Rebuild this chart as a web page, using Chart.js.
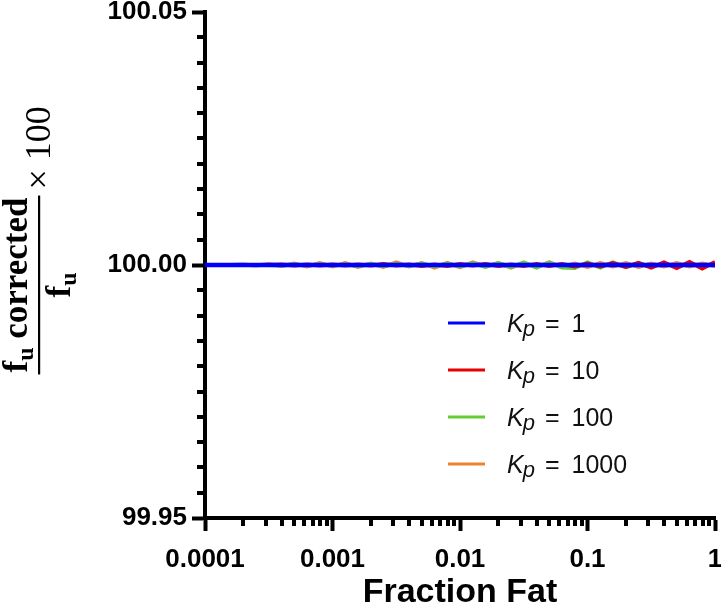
<!DOCTYPE html>
<html><head><meta charset="utf-8">
<script src="https://cdn.jsdelivr.net/npm/chart.js@4.4.0/dist/chart.umd.min.js"></script>
<style>html,body{margin:0;padding:0;background:#fff;}#wrap{width:721px;height:615px;}</style>
</head><body><div id="wrap"><canvas id="c" width="721" height="615"></canvas></div>
<script>
// ---- data ----
const fractionFat = [0.0001,0.000126,0.000158,0.0002,0.000251,0.000316,0.000398,0.000501,0.000631,0.000794,
  0.001,0.00126,0.00158,0.002,0.00251,0.00316,0.00398,0.00501,0.00631,0.00794,
  0.01,0.0126,0.0158,0.02,0.0251,0.0316,0.0398,0.0501,0.0631,0.0794,
  0.1,0.126,0.158,0.2,0.251,0.316,0.398,0.501,0.631,0.794,1];
const kp1 = [100,100,100,100,100,100,100,100,100,100,
  100,100,100,100,100,100,100,100,100,100,
  100,100,100,100,100,100,100,100,100,100,
  100,100,100,100,100,100,100,100,100,100,100];
const kp10 = [100,100,100,100,100,100,100.0001,99.9999,100.0001,99.9999,
  100.0001,99.9999,100.0001,99.9999,100.0002,99.9999,100.0001,99.9998,100.0001,99.9998,
  100.0002,99.9999,100.0002,99.9998,100.0001,99.9998,100.0002,99.9998,100.0002,99.9997,
  100.0003,99.9997,100.0004,99.9996,100.0004,99.9995,100.0005,99.9994,100.0006,99.9993,100.0006];
const kp100 = [100,100,100,100,100,100,99.9999,100.0001,99.9999,100.0001,
  99.9999,100.0001,99.9998,100.0002,99.9998,100.0002,99.9998,100.0003,99.9997,100.0003,
  99.9997,100.0004,99.9996,100.0004,99.9996,100.0005,99.9995,100.0005,99.9995,99.9994,
  100.0005,99.9995,100.0005,99.9996,100.0004,99.9996,100.0003,99.9997,100.0003,99.9998,100.0002];
const kp1000 = [100,100,100,100.0001,99.9999,100.0002,99.9998,100.0003,99.9997,100.0004,
  99.9997,100.0004,99.9996,100.0003,99.9996,100.0005,99.9997,100.0004,99.9995,100.0004,
  99.9996,100.0005,99.9997,100.0004,99.9995,100.0004,99.9996,100.0005,99.9996,100.0003,
  99.9996,100.0004,99.9997,100.0004,99.9996,100.0003,99.9997,100.0004,99.9997,100.0003,99.9998];
const kpLabels = ['1','10','100','1000'];
const xTickValues = [0.0001,0.001,0.01,0.1,1];
const xTickLabels = ['0.0001','0.001','0.01','0.1','1'];
const yTickValues = [99.95,100.00,100.05];
const yTickLabels = ['99.95','100.00','100.05'];

const colors = ['#0000ff','#e60000','#66cc33','#ee8233'];
const series = [kp1,kp10,kp100,kp1000];

Chart.defaults.font.family = '"Liberation Sans", Arial, sans-serif';
Chart.defaults.color = '#000';

const decor = {
  id:'decor',
  afterDraw(chart){
    const ctx = chart.ctx, xs = chart.scales.x, ys = chart.scales.y, ca = chart.chartArea;
    ctx.save();
    ctx.strokeStyle = '#000'; ctx.lineWidth = 4; ctx.lineCap = 'butt';
    // minor y ticks
    for (let k = 1; k < 20; k++) {
      if (k === 10) continue;
      const v = yTickValues[0] + k * (yTickValues[1]-yTickValues[0]) / 10;
      const py = Math.round(ys.getPixelForValue(v));
      ctx.beginPath(); ctx.moveTo(ca.left - 8, py); ctx.lineTo(ca.left, py); ctx.stroke();
    }
    // minor x ticks
    for (let d = 0; d < xTickValues.length - 1; d++) {
      for (let m = 2; m <= 9; m++) {
        const px = Math.round(xs.getPixelForValue(xTickValues[d]*m));
        ctx.beginPath(); ctx.moveTo(px, ca.bottom); ctx.lineTo(px, ca.bottom + 8); ctx.stroke();
      }
    }
    // legend
    const rowY0 = 323, rowStep = 47, lx0 = 448, lx1 = 485, tx = 507;
    chart.data.datasets.forEach((ds, i) => {
      const y = rowY0 + i*rowStep;
      ctx.strokeStyle = ds.borderColor; ctx.lineWidth = 3;
      ctx.beginPath(); ctx.moveTo(lx0, y); ctx.lineTo(lx1, y); ctx.stroke();
      ctx.fillStyle = '#111'; ctx.textAlign = 'left'; ctx.textBaseline = 'alphabetic';
      let x = tx; const base = y + 8.5;
      ctx.font = 'italic 25px "Liberation Sans"'; ctx.fillText('K', x, base); x += ctx.measureText('K').width - 1;
      ctx.font = 'italic 22px "Liberation Sans"'; ctx.fillText('p', x, base + 4); x += ctx.measureText('p').width + 10;
      ctx.font = '25px "Liberation Sans"'; ctx.fillText('=', x, base); x += ctx.measureText('=').width + 12;
      ctx.fillText(kpLabels[i], x, base);
    });
    // y title
    ctx.translate(39, 285);
    ctx.rotate(-Math.PI/2);
    ctx.fillStyle = '#000'; ctx.textAlign = 'left'; ctx.textBaseline = 'alphabetic';
    const big = 'bold 35px "Liberation Serif"', sub = 'bold 24px "Liberation Serif"';
    ctx.font = big; const wf = ctx.measureText('f').width, wc = ctx.measureText(' corrected').width;
    ctx.font = sub; const wu = ctx.measureText('u').width;
    const numW = wf + wu + wc;
    let x = -numW/2; const nb = -12;
    ctx.font = big; ctx.fillText('f', x, nb); x += wf;
    ctx.font = sub; ctx.fillText('u', x, nb + 6); x += wu;
    ctx.font = big; ctx.fillText(' corrected', x, nb);
    ctx.fillRect(-numW/2 - 2, -1, numW + 4, 2.2);
    const denW = wf + wu; x = -denW/2; const db = 31;
    ctx.font = big; ctx.fillText('f', x, db); x += wf;
    ctx.font = sub; ctx.fillText('u', x, db + 6);
    ctx.font = '36px "Liberation Serif"'; ctx.textBaseline = 'middle';
    ctx.fillText('\u00d7 100', numW/2 + 8, 2);
    ctx.restore();
  }
};

const tickFont = {size: 26, weight: 'bold'};
new Chart(document.getElementById('c'), {
  type: 'line',
  data: {
    datasets: series.map((arr, i) => ({
      label: 'Kp = ' + kpLabels[i],
      data: fractionFat.map((x, j) => ({x: x, y: arr[j]})),
      borderColor: colors[i], backgroundColor: colors[i],
      borderWidth: i === 0 ? 4.5 : 4, pointRadius: 0, tension: 0, fill: false
    }))
  },
  options: {
    responsive: false, animation: false, devicePixelRatio: 1,
    layout: {padding: {top: 12, right: 6, left: 0, bottom: 0}},
    plugins: {legend: {display: false}, tooltip: {enabled: false}},
    scales: {
      x: {
        type: 'logarithmic', min: 0.0001, max: 1,
        afterBuildTicks: s => { s.ticks = xTickValues.map(v => ({value: v})); },
        afterFit: s => { s.height = 97; s.paddingLeft = 0; s.paddingRight = 0; },
        ticks: {callback: (v, i) => xTickLabels[i], font: tickFont, color: '#000', maxRotation: 0, autoSkip: false, padding: 13},
        grid: {drawOnChartArea: false, drawTicks: true, tickLength: 13, tickWidth: 4, tickColor: '#000'},
        border: {display: true, color: '#000', width: 4},
        title: {display: true, text: 'Fraction Fat', font: {size: 34, weight: 'bold'}, color: '#000', padding: {top: 0, bottom: 2}}
      },
      y: {
        type: 'linear', min: 99.95, max: 100.05,
        afterBuildTicks: s => { s.ticks = yTickValues.map(v => ({value: v})); },
        afterFit: s => { s.width = 205; s.paddingTop = 0; s.paddingBottom = 0; },
        ticks: {callback: (v, i) => yTickLabels[i], font: tickFont, color: '#000', padding: 5},
        grid: {drawOnChartArea: false, drawTicks: true, tickLength: 13, tickWidth: 4, tickColor: '#000'},
        border: {display: true, color: '#000', width: 4}
      }
    }
  },
  plugins: [decor]
});
</script></body></html>
